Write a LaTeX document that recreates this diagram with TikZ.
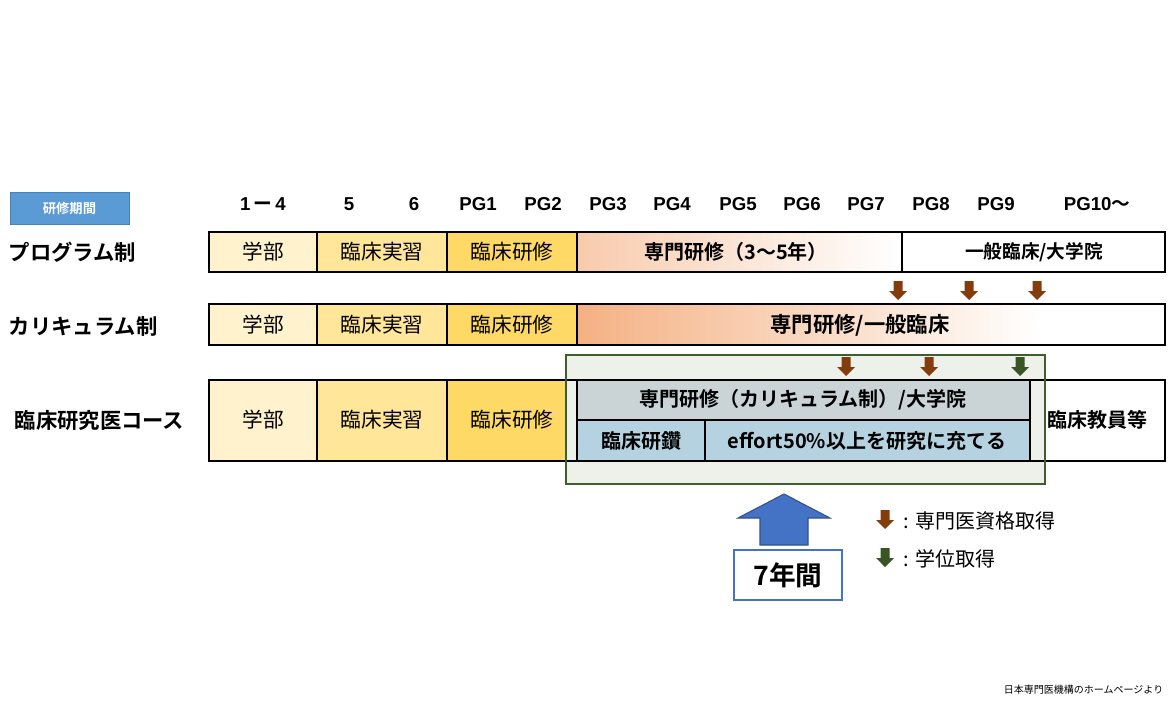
\documentclass[tikz,border=0pt]{standalone}
\usepackage{fontspec}
\setmainfont{Liberation Sans}
\newfontfamily\jp{Noto Sans CJK JP}[BoldFont={Noto Sans CJK JP Bold}]
\usetikzlibrary{shadings}
\definecolor{c1}{HTML}{FFF2CC}
\definecolor{c2}{HTML}{FFE699}
\definecolor{c3}{HTML}{FFD966}
\definecolor{sal}{HTML}{F4B183}
\definecolor{sal2}{HTML}{F8CBAD}
\definecolor{brn}{HTML}{843C0C}
\definecolor{grn}{HTML}{375623}
\definecolor{gbox}{HTML}{3F5F2A}
\definecolor{hdr}{HTML}{CAD4D6}
\definecolor{lb}{HTML}{B5D2E0}
\definecolor{blu}{HTML}{4472C4}
\newcommand\myarr[3]{\fill[#3] (#1-4.5,#2) -- (#1+4.5,#2) -- (#1+4.5,#2+10) -- (#1+9,#2+10) -- (#1,#2+19) -- (#1-9,#2+10) -- (#1-4.5,#2+10) -- cycle;}
\begin{document}
\begin{tikzpicture}[x=0.75pt,y=-0.75pt,
  box/.style={draw=black,line width=1.2pt,inner sep=0pt,font=\jp\fontsize{15.5}{16}\selectfont},
  bb/.style={box,draw=none,font=\jp\bfseries\fontsize{15}{16}\selectfont},
  hd/.style={font=\bfseries\fontsize{14}{14}\selectfont},
  rl/.style={font=\jp\bfseries\fontsize{16}{16}\selectfont,anchor=west}]
\useasboundingbox (0,0) rectangle (1172,711);
\node[fill={rgb,255:red,91;green,155;blue,213},draw={rgb,255:red,70;green,130;blue,190},minimum width=89pt,minimum height=24pt,font=\jp\bfseries\fontsize{10}{10}\selectfont,text=white] (kk) at (69.5,208) {研修期間};
\foreach \x/\t [count=\i] in {263/1－4,349/5,414/6,478/PG1,543/PG2,608/PG3,672/PG4,738/PG5,802/PG6,866/PG7,931/PG8,996/PG9,1097/PG10〜}
  \node[hd] (h\i) at (\x,204) {\ifnum\i=1 1\,\textbf{\jp ー}\,4\else\ifnum\i=13 PG10\textbf{\jp 〜}\else\t\fi\fi};
\node[rl] (l1) at (4,252) {プログラム制};
\node[rl] (l2) at (4,326) {カリキュラム制};
\node[rl] (l3) at (10,420) {臨床研究医コース};
% row 1
\draw[box,fill=c1] (209,232) rectangle (317,272);
\draw[box,fill=c2] (317,232) rectangle (447,272);
\draw[box,fill=c3] (447,232) rectangle (577,272);
\shade[left color=sal2,right color=white] (577,232) rectangle (902,272);
\draw[box] (577,232) rectangle (1165,272);
\draw[line width=1pt] (902,232) -- (902,272);
\node[box,draw=none] (a1) at (263,252) {学部};
\node[box,draw=none] (a2) at (382,252) {臨床実習};
\node[box,draw=none] (a3) at (512,252) {臨床研修};
\node[bb] (a4) at (736,252) {専門研修（3～5年）};
\node[bb,font=\jp\bfseries\fontsize{14}{14}\selectfont] (a5) at (1034,252) {一般臨床/大学院};
% row 2
\draw[box,fill=c1] (209,304) rectangle (317,345);
\draw[box,fill=c2] (317,304) rectangle (447,345);
\draw[box,fill=c3] (447,304) rectangle (577,345);
\shade[left color=sal,right color=white] (577,304) rectangle (1040,345);
\draw[box] (577,304) rectangle (1165,345);
\node[box,draw=none] (b1) at (263,325) {学部};
\node[box,draw=none] (b2) at (382,325) {臨床実習};
\node[box,draw=none] (b3) at (512,325) {臨床研修};
\node[bb,font=\jp\bfseries\fontsize{16}{16}\selectfont] (b4) at (860,325) {専門研修/一般臨床};
% row 3
\draw[box,fill=c1] (209,380) rectangle (317,461);
\draw[box,fill=c2] (317,380) rectangle (447,461);
\draw[box,fill=c3] (447,380) rectangle (577,461);
\draw[box] (577,380) rectangle (1165,461);
\fill[fill={rgb,255:red,238;green,240;blue,234}] (566,355) rectangle (1045,484);
\draw[box,fill=hdr] (577,380) rectangle (1030,420);
\draw[box,fill=lb] (577,420) rectangle (705,461);
\draw[box,fill=lb] (705,420) rectangle (1030,461);
\draw[line width=1.2pt] (566,380) -- (577,380) (566,461) -- (577,461) (1030,380) -- (1045,380) (1030,461) -- (1045,461);
\draw[gbox,line width=2pt] (566,355) rectangle (1045,484);
\node[box,draw=none] (c1) at (263,420) {学部};
\node[box,draw=none] (c2) at (382,420) {臨床実習};
\node[box,draw=none] (c3) at (512,420) {臨床研修};
\node[bb] (c4) at (803,400) {専門研修（カリキュラム制）/大学院};
\node[bb] (c5) at (641,441) {臨床研鑽};
\node[bb] (c6) at (867,441) {effort50\%以上を研究に充てる};
\node[bb] (c7) at (1097,420) {臨床教員等};
% arrows
\myarr{898}{281}{brn}\myarr{969}{281}{brn}\myarr{1037}{281}{brn}
\myarr{846}{357}{brn}\myarr{929}{357}{brn}\myarr{1020}{357}{grn}
\myarr{885}{510}{brn}\myarr{885}{548}{grn}
\node[anchor=west,font=\jp\fontsize{15}{15}\selectfont] (g1) at (899,521) {: 専門医資格取得};
\node[anchor=west,font=\jp\fontsize{15}{15}\selectfont] (g2) at (899,559) {: 学位取得};
\fill[blu,draw={rgb,255:red,47;green,82;blue,143},line width=0.8pt] (760,545) -- (808,545) -- (808,518) -- (830,518) -- (784,494) -- (738,518) -- (760,518) -- cycle;
\node[draw=blu,line width=1.5pt,fill=white,minimum width=81pt,minimum height=37pt,font=\jp\bfseries\fontsize{20}{20}\selectfont] (y7) at (788,575) {7年間};
\node[anchor=east,font=\jp\fontsize{7.5}{7.5}\selectfont] (src) at (1168,690) {日本専門医機構のホームページより};
\end{tikzpicture}
\end{document}
